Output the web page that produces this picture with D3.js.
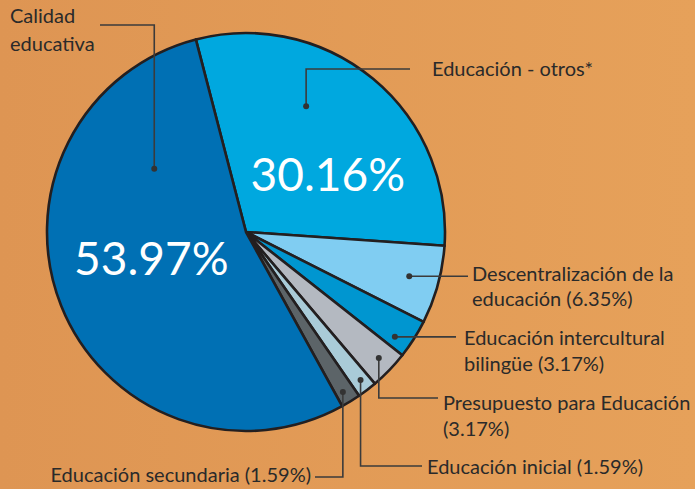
<!DOCTYPE html>
<html>
<head>
<meta charset="utf-8">
<script src="https://cdn.jsdelivr.net/npm/d3@7"></script>
<style>
  html, body { margin: 0; padding: 0; background: #e29b56; }
  svg { display: block; }
  text { font-family: Lato, "Open Sans", sans-serif; }
</style>
</head>
<body>
<div id="chart"></div>
<script>
(function() {
  var width = 695;
  var height = 489;

  // data, clockwise from the top
  var categories = ["Educación - otros*", "Descentralización de la educación",
    "Educación intercultural bilingüe", "Presupuesto para Educación",
    "Educación inicial", "Educación secundaria", "Calidad educativa"];
  var values = [30.16, 6.35, 3.17, 3.17, 1.59, 1.59, 53.97];
  var colors = ["#00a8df", "#80cdf2", "#0096d0", "#b4b9c1", "#a9cbd8", "#5c6468", "#0070b4"];

  // callout text lines (one entry per slice)
  var labelLines = [
    ["Educación - otros*"],
    ["Descentralización de la", "educación (6.35%)"],
    ["Educación intercultural", "bilingüe (3.17%)"],
    ["Presupuesto para Educación", "(3.17%)"],
    ["Educación inicial (1.59%)"],
    ["Educación secundaria (1.59%)"],
    ["Calidad", "educativa"]
  ];

  var cx = 246, cy = 232, radius = 199;
  var startAngle = -14.6 * Math.PI / 180;

  var svg = d3.select("#chart")
    .append("svg")
    .attr("width", width)
    .attr("height", height);

  var bg = svg.append("defs").append("linearGradient")
    .attr("id", "bg").attr("x1", 0).attr("y1", 0).attr("x2", 1).attr("y2", 0);
  bg.append("stop").attr("offset", 0).attr("stop-color", "#de9553");
  bg.append("stop").attr("offset", 1).attr("stop-color", "#e6a15a");
  svg.append("rect").attr("width", width).attr("height", height).attr("fill", "url(#bg)");

  var pie = d3.pie()
    .sort(null)
    .startAngle(startAngle)
    .endAngle(startAngle + 2 * Math.PI);

  var arc = d3.arc().innerRadius(0).outerRadius(radius);

  var arcs = pie(values);

  var g = svg.append("g")
    .attr("transform", "translate(" + cx + "," + cy + ")");

  g.selectAll(".slice")
    .data(arcs)
    .enter().append("path")
    .attr("class", "slice")
    .attr("d", arc)
    .attr("fill", function(d, i) { return colors[i]; })
    .attr("stroke", "#231f20")
    .attr("stroke-width", 2.6)
    .attr("stroke-linejoin", "round");

  // point on the pie at fraction t of the slice, at radius fraction rf
  function polar(d, t, rf) {
    var a = d.startAngle + t * (d.endAngle - d.startAngle);
    return [cx + Math.sin(a) * radius * rf, cy - Math.cos(a) * radius * rf];
  }

  // where the dot sits and how the leader runs to the text
  // elbow: "h" = straight horizontal, "vh" = down then horizontal, "hv" = horizontal then down to dot
  var callouts = [
    { t: 0.37, rf: 0.70, elbow: "hv", lineY: 69, lineEnd: 410, tx: 432, ty: [76], anchor: "start" },
    { t: 0.49, rf: 0.85, elbow: "h", lineEnd: 468, tx: 472, ty: [281, 306], anchor: "start" },
    { t: 0.73, rf: 0.915, elbow: "h", lineEnd: 456, tx: 464, ty: [345, 371], anchor: "start" },
    { t: 0.46, rf: 0.92, elbow: "vh", lineY: 398, lineEnd: 438, tx: 443, ty: [410, 436], anchor: "start" },
    { t: 0.45, rf: 0.94, elbow: "vh", lineY: 466, lineEnd: 422, tx: 427, ty: [474], anchor: "start" },
    { t: 0.60, rf: 0.94, elbow: "vh", lineY: 477, lineEnd: 315, tx: 311, ty: [482], anchor: "end" },
    { t: 0.79, rf: 0.56, elbow: "hv", lineY: 25, lineEnd: 100, tx: 10, ty: [23, 51], anchor: "start" }
  ];

  var lines = svg.append("g")
    .attr("fill", "none")
    .attr("stroke", "#3b3b3b")
    .attr("stroke-width", 1.6);

  var labels = svg.append("g")
    .attr("fill", "#2a2a2a")
    .attr("font-size", "20px");

  arcs.forEach(function(d, i) {
    var c = callouts[i];
    var p = polar(d, c.t, c.rf);
    var pts;
    if (c.elbow === "h") {
      pts = [p, [c.lineEnd, p[1]]];
    } else if (c.elbow === "vh") {
      pts = [p, [p[0], c.lineY], [c.lineEnd, c.lineY]];
    } else {
      pts = [[c.lineEnd, c.lineY], [p[0], c.lineY], p];
    }
    lines.append("path").attr("d", d3.line()(pts));
    svg.append("circle")
      .attr("cx", p[0]).attr("cy", p[1]).attr("r", 3)
      .attr("fill", "#333");

    labelLines[i].forEach(function(line, k) {
      labels.append("text")
        .attr("x", c.tx)
        .attr("y", c.ty[k])
        .attr("text-anchor", c.anchor)
        .text(line);
    });
  });

  // big percentages inside the two largest slices
  var bigLabels = [
    { idx: 0, t: 0.66, rf: 0.49, text: "30.16%" },
    { idx: 6, t: 0.52, rf: 0.50, text: "53.97%" }
  ];
  bigLabels.forEach(function(b) {
    var p = polar(arcs[b.idx], b.t, b.rf);
    svg.append("text")
      .attr("x", p[0])
      .attr("y", p[1] + 12)
      .attr("text-anchor", "middle")
      .attr("fill", "#ffffff")
      .attr("font-size", "46px")
      .text(b.text);
  });
})();
</script>
</body>
</html>
